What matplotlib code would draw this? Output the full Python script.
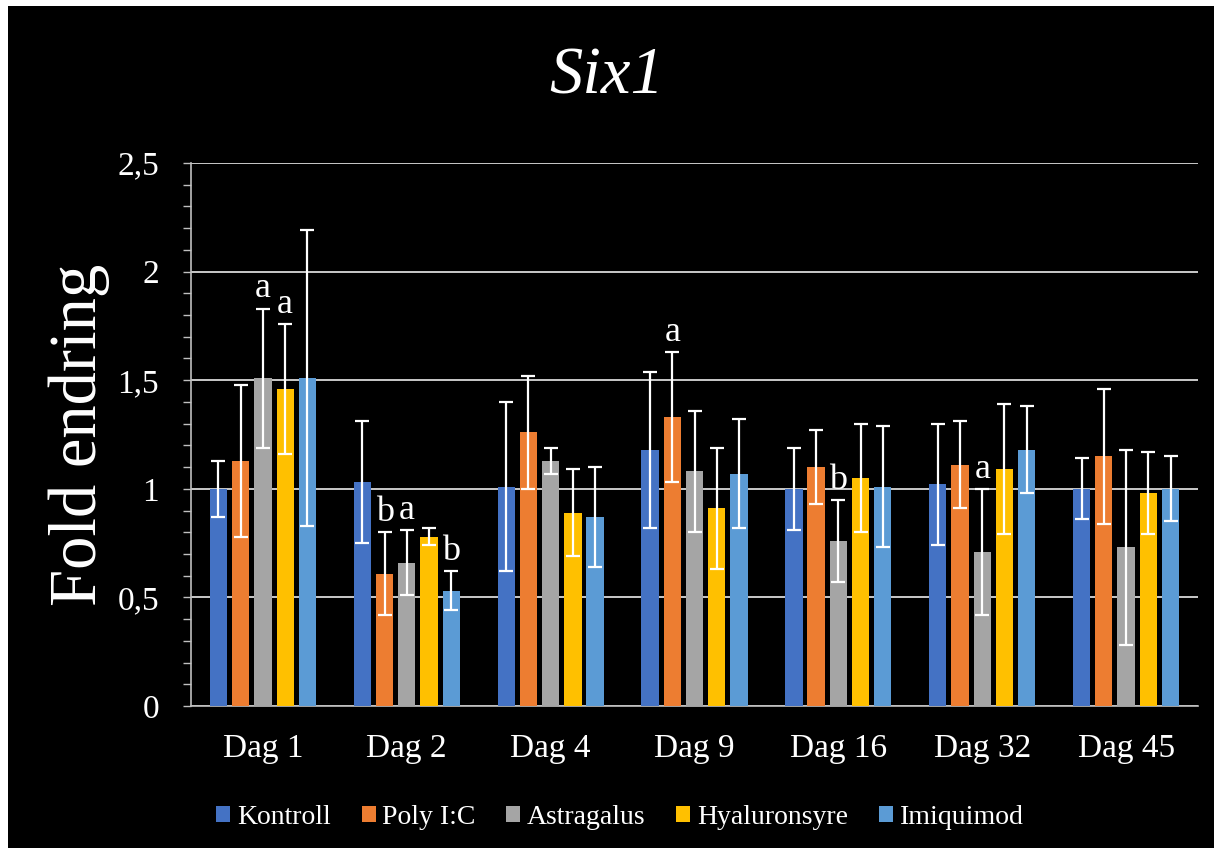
import matplotlib
matplotlib.use('Agg')
import matplotlib.pyplot as plt
from matplotlib.patches import Rectangle
from matplotlib.ticker import MultipleLocator, FuncFormatter
import numpy as np

days = ['Dag 1', 'Dag 2', 'Dag 4', 'Dag 9', 'Dag 16', 'Dag 32', 'Dag 45']
groups = ['Kontroll', 'Poly I:C', 'Astragalus', 'Hyaluronsyre', 'Imiquimod']

kontroll = [1.00, 1.03, 1.01, 1.18, 1.00, 1.02, 1.00]
kontroll_err = [0.13, 0.28, 0.39, 0.36, 0.19, 0.28, 0.14]
poly = [1.13, 0.61, 1.26, 1.33, 1.10, 1.11, 1.15]
poly_err = [0.35, 0.19, 0.26, 0.30, 0.17, 0.20, 0.31]
astra = [1.51, 0.66, 1.13, 1.08, 0.76, 0.71, 0.73]
astra_err = [0.32, 0.15, 0.06, 0.28, 0.19, 0.29, 0.45]
hyal = [1.46, 0.78, 0.89, 0.91, 1.05, 1.09, 0.98]
hyal_err = [0.30, 0.04, 0.20, 0.28, 0.25, 0.30, 0.19]
imiq = [1.51, 0.53, 0.87, 1.07, 1.01, 1.18, 1.00]
imiq_err = [0.68, 0.09, 0.23, 0.25, 0.28, 0.20, 0.15]

# significance letters above the error bars
kontroll_sig = ['', '', '', '', '', '', '']
poly_sig = ['', 'b', '', 'a', '', '', '']
astra_sig = ['a', 'a', '', '', 'b', 'a', '']
hyal_sig = ['a', '', '', '', '', '', '']
imiq_sig = ['', 'b', '', '', '', '', '']

values = [kontroll, poly, astra, hyal, imiq]
errors = [kontroll_err, poly_err, astra_err, hyal_err, imiq_err]
letters = [kontroll_sig, poly_sig, astra_sig, hyal_sig, imiq_sig]
colors = ['#4472C4', '#ED7D31', '#A5A5A5', '#FFC000', '#5B9BD5']

plt.rcParams['font.family'] = ['Liberation Serif', 'DejaVu Serif']

fig = plt.figure(figsize=(12.14, 8.48), dpi=100)
fig.patch.set_facecolor('black')
# white strips at the top and left edge of the screenshot
fig.patches.append(Rectangle((0, 1 - 6 / 848), 1, 6 / 848, transform=fig.transFigure,
                             facecolor='white', edgecolor='none', zorder=0))
fig.patches.append(Rectangle((0, 0), 8 / 1214, 1, transform=fig.transFigure,
                             facecolor='white', edgecolor='none', zorder=0))

ax = fig.add_axes([191 / 1214, 1 - 706 / 848, 1007 / 1214, 543 / 848])
ax.set_facecolor('black')

x = np.arange(len(days))
step = 0.1545
width = 0.12

for i, (vals, errs, sig, col, name) in enumerate(zip(values, errors, letters, colors, groups)):
    pos = x + (i - 2) * step
    ax.bar(pos, vals, width, color=col, label=name, zorder=3)
    ax.errorbar(pos, vals, yerr=errs, fmt='none', ecolor='white', elinewidth=1.6,
                capsize=5, capthick=1.6, zorder=4)
    for p, v, e, s in zip(pos, vals, errs, sig):
        if s:
            ax.annotate(s, (p, v + e), xytext=(0, 8), textcoords='offset points',
                        ha='center', va='baseline', fontsize=26, color='white', zorder=5)

ax.set_xlim(-0.5, len(days) - 0.5)
ax.set_ylim(0, 2.5)
ax.yaxis.set_major_locator(MultipleLocator(0.5))
ax.yaxis.set_minor_locator(MultipleLocator(0.1))
ax.yaxis.set_major_formatter(FuncFormatter(lambda v, p: ('%g' % v).replace('.', ',')))
ax.grid(axis='y', color='#D9D9D9', linewidth=1.3, zorder=1)
ax.set_axisbelow(True)

ax.set_xticks(x)
ax.set_xticklabels(days)
ax.tick_params(axis='x', length=0, pad=20, labelsize=24, colors='white')
ax.tick_params(axis='y', which='both', direction='out', length=6, width=1,
               color='#BFBFBF', labelcolor='white', labelsize=24, pad=17)

for side in ['top', 'right']:
    ax.spines[side].set_visible(False)
for side in ['left', 'bottom']:
    ax.spines[side].set_color('#BFBFBF')
    ax.spines[side].set_linewidth(1.2)

ax.set_ylabel('Fold endring', fontsize=48, color='white')
ax.yaxis.set_label_coords(-0.08, 0.5)

fig.text(0.5, 1 - 93 / 848, 'Six1', ha='center', va='baseline', fontsize=48,
         style='italic', color='white')

leg = fig.legend(loc='center', bbox_to_anchor=(620 / 1214, 1 - 817 / 848), ncol=5,
                 frameon=False, fontsize=20, handlelength=0.5, handleheight=0.5,
                 handletextpad=0.25, columnspacing=1.1, labelcolor='white')

fig.savefig('out.png', dpi=100, facecolor=fig.get_facecolor())
